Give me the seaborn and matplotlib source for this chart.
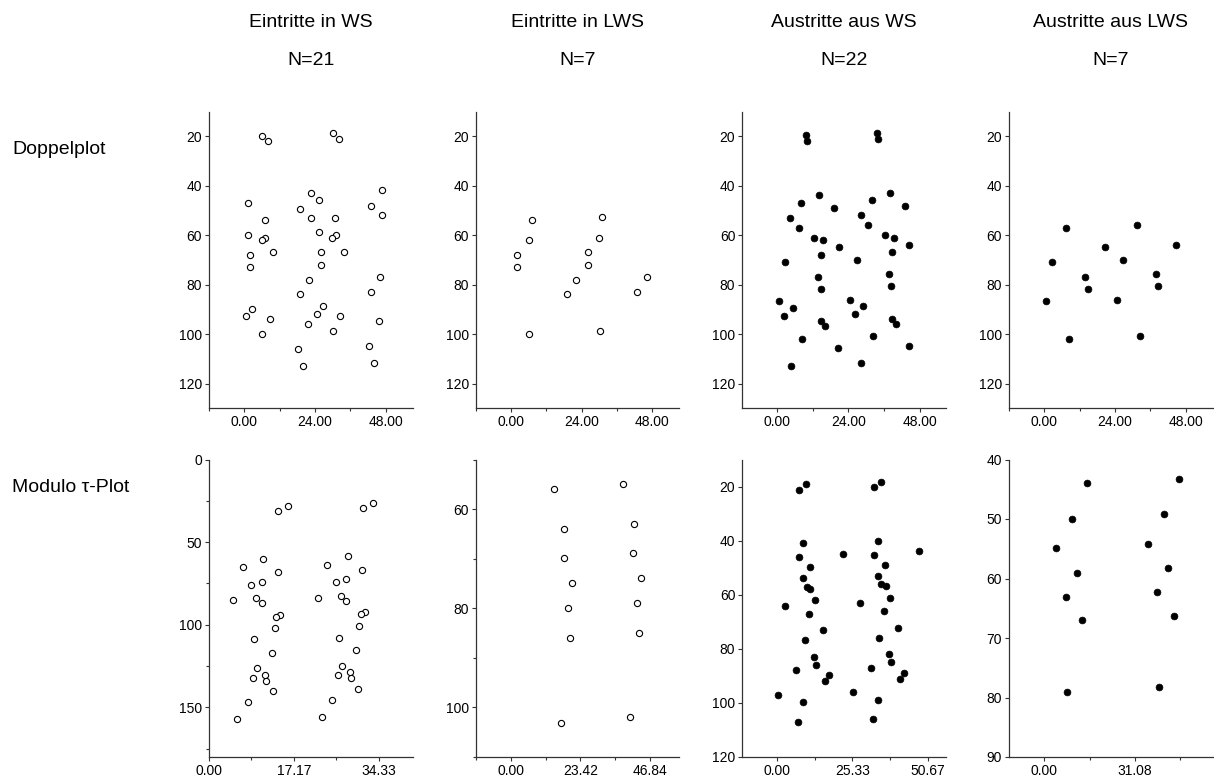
import matplotlib
matplotlib.use("Agg")
import matplotlib.pyplot as plt
import pandas as pd
import seaborn as sns
from matplotlib.ticker import FixedLocator, FixedFormatter

# ---------------- data ----------------
col_titles = ["Eintritte in WS", "Eintritte in LWS", "Austritte aus WS", "Austritte aus LWS"]
col_n = ["N=21", "N=7", "N=22", "N=7"]
row_labels = ["Doppelplot", "Modulo \u03c4-Plot"]

# Row 1: Doppelplot (x = hour, y = day)
p1_x = [6.1, 7.9, 30.2, 32.0, 46.8, 22.6, 25.5, 1.4, 42.9, 19.0, 46.8, 7.0, 22.6, 30.9, 25.2,
        1.1, 31.0, 29.7, 6.9, 5.9, 33.8, 26.2, 2.0, 9.8, 1.9, 26.2, 46.1, 22.0, 19.0, 42.9,
        2.5, 26.6, 0.7, 24.8, 32.6, 8.7, 45.6, 21.5, 5.9, 30.0, 42.2, 18.1, 43.9, 19.8]
p1_y = [19.7, 21.9, 18.7, 20.9, 41.8, 42.7, 45.9, 47.0, 48.0, 49.2, 51.9, 53.9, 52.9, 52.9, 58.7,
        59.9, 59.9, 60.9, 60.9, 61.9, 66.7, 66.8, 67.8, 66.8, 72.7, 72.0, 77.0, 78.1, 83.8, 82.8,
        89.8, 88.8, 92.8, 91.9, 92.8, 93.9, 94.6, 95.7, 99.8, 98.9, 104.8, 105.9, 111.7, 112.7]

p2_x = [7.1, 6.0, 2.2, 2.2, 6.0, 31.0, 30.0, 26.3, 26.3, 22.1, 19.0, 30.1, 46.2, 42.9]
p2_y = [53.9, 61.9, 67.8, 72.7, 99.8, 52.8, 60.9, 66.8, 72.0, 78.1, 83.8, 98.9, 77.0, 82.8]

p3_x = [9.8, 10.0, 33.6, 33.9, 38.1, 14.2, 32.0, 8.0, 43.2, 19.2, 4.3, 28.3, 7.3, 30.5, 12.6,
        36.3, 15.4, 39.3, 20.7, 44.6, 14.7, 38.6, 2.8, 26.8, 13.8, 37.7, 14.7, 38.4, 0.7, 24.6,
        2.4, 26.4, 5.3, 29.0, 14.9, 38.7, 16.3, 40.0, 8.5, 32.3, 20.5, 44.3, 4.6, 28.3]
p3_y = [19.6, 21.9, 18.7, 20.9, 42.7, 43.8, 45.9, 47.0, 48.0, 49.0, 52.9, 51.9, 57.0, 56.0, 60.9,
        59.9, 61.9, 60.9, 64.6, 64.0, 67.8, 66.8, 70.9, 70.0, 76.9, 75.8, 81.8, 80.6, 86.7, 86.0,
        92.8, 91.9, 89.6, 88.7, 94.5, 93.9, 96.6, 95.7, 102.0, 100.9, 105.8, 104.8, 112.7, 111.7]

p4_x = [7.2, 31.5, 2.7, 26.8, 13.8, 37.9, 14.7, 38.6, 0.6, 24.7, 8.4, 32.5, 20.7, 44.8]
p4_y = [57.1, 56.0, 70.9, 70.0, 76.9, 75.8, 81.8, 80.6, 86.7, 86.0, 102.0, 100.9, 64.6, 64.0]

# Row 2: Modulo tau-Plot
p5_x = [14.0, 15.9, 31.1, 33.1, 11.0, 28.1, 6.8, 23.9, 13.9, 31.0, 10.7, 27.8, 8.5, 25.7, 4.8,
        22.0, 9.5, 26.6, 10.7, 27.8, 14.4, 31.6, 13.6, 30.7, 13.3, 30.4, 9.1, 26.2, 12.7, 29.8,
        9.7, 26.8, 8.9, 26.1, 11.4, 28.5, 11.6, 28.7, 13.0, 30.1, 7.8, 24.9, 5.7, 22.8]
p5_y = [31.3, 28.0, 29.6, 26.4, 60.1, 58.5, 65.1, 63.7, 67.9, 66.9, 74.2, 72.6, 76.0, 74.4, 84.9,
        83.9, 84.1, 82.7, 86.7, 85.7, 93.8, 92.5, 95.0, 93.3, 102.0, 101.0, 108.9, 107.9, 117.1, 115.5,
        126.0, 124.8, 132.1, 130.6, 130.4, 128.8, 134.3, 132.5, 139.9, 138.7, 146.8, 145.8, 156.9, 155.6]

p6_x = [14.4, 37.7, 18.0, 41.4, 17.9, 41.2, 20.7, 44.0, 19.4, 42.7, 19.8, 43.1, 17.0, 40.3]
p6_y = [56.0, 54.9, 64.0, 63.0, 69.9, 68.9, 75.0, 73.9, 80.0, 79.0, 86.0, 84.9, 103.1, 102.0]

p7_x = [9.8, 7.4, 35.0, 32.5, 8.9, 34.0, 22.3, 47.8, 7.4, 32.5, 11.0, 36.2, 8.6, 33.9, 10.0,
        11.2, 35.1, 36.5, 12.7, 38.1, 2.6, 27.8, 10.8, 36.0, 15.4, 40.5, 9.3, 34.4, 12.6, 37.8,
        13.2, 38.3, 6.3, 31.5, 17.5, 42.7, 16.1, 41.3, 0.3, 25.6, 8.6, 33.9, 7.2, 32.4]
p7_y = [19.1, 21.1, 18.2, 20.1, 40.8, 40.0, 44.9, 43.9, 46.1, 45.2, 49.8, 48.9, 53.8, 52.9, 57.0,
        58.0, 56.0, 56.9, 61.9, 61.1, 64.0, 63.2, 67.0, 66.0, 73.1, 72.2, 76.8, 75.9, 83.0, 82.0,
        85.8, 84.9, 87.9, 87.0, 89.8, 88.9, 91.9, 91.0, 97.1, 96.1, 99.8, 98.8, 107.1, 106.1]

p8_x = [14.6, 46.2, 9.6, 41.1, 4.1, 35.4, 11.1, 42.4, 7.3, 38.7, 13.0, 44.5, 7.8, 39.2]
p8_y = [44.0, 43.3, 50.0, 49.2, 54.9, 54.2, 59.0, 58.2, 63.1, 62.2, 67.0, 66.3, 79.0, 78.2]

panels_x = [p1_x, p2_x, p3_x, p4_x, p5_x, p6_x, p7_x, p8_x]
panels_y = [p1_y, p2_y, p3_y, p4_y, p5_y, p6_y, p7_y, p8_y]

# x tick labels (major) and minor tick positions
xmajor = [["0.00", "24.00", "48.00"]] * 4 + [["0.00", "17.17", "34.33"], ["0.00", "23.42", "46.84"],
                                             ["0.00", "25.33", "50.67"], ["0.00", "31.08"]]
xminor = [[-12, 12, 36]] * 4 + [[8.585, 25.75], [-11.71, 11.71, 35.13], [12.665, 38.0], [15.54, 46.62]]
xlims = [(-12, 57.2), (-12, 57.2), (-11.7, 56.9), (-12, 57.2),
         (0, 41.2), (-11.9, 56.9), (-11.66, 56.8), (-12.1, 57.7)]
ymajor = [[20, 40, 60, 80, 100, 120]] * 4 + [[0, 50, 100, 150], [60, 80, 100],
                                              [20, 40, 60, 80, 100, 120], [40, 50, 60, 70, 80, 90]]
yminor = [[]] * 4 + [[25, 75, 125, 175], [50, 70, 90, 110], [], []]
ylims = [(130, 10)] * 4 + [(180, 0), (110, 50), (120, 10), (90, 40)]
filled = [False, False, True, True, False, False, True, True]

# ---------------- figure ----------------
sns.set_style("ticks")
plt.rcParams["font.family"] = ["Liberation Sans", "DejaVu Sans"]
plt.rcParams["text.color"] = "black"
plt.rcParams["xtick.color"] = "black"
plt.rcParams["ytick.color"] = "black"

W, H = 1214, 781
fig = plt.figure(figsize=(W / 100, H / 100), dpi=100)

lefts = [209, 475.7, 742.3, 1009]
aw = 203.7
rows = [(111.7, 408.3), (459.5, 757.0)]

for i in range(8):
    r, c = divmod(i, 4)
    top, bot = rows[r]
    ax = fig.add_axes([lefts[c] / W, 1 - bot / H, aw / W, (bot - top) / H])
    df = pd.DataFrame({"x": panels_x[i], "y": panels_y[i]})
    if filled[i]:
        sns.scatterplot(data=df, x="x", y="y", ax=ax, s=24, color="black",
                        edgecolor="black", linewidth=0.5)
    else:
        sns.scatterplot(data=df, x="x", y="y", ax=ax, s=20, facecolor="white",
                        edgecolor="black", linewidth=0.8)
    ax.set_xlim(*xlims[i])
    ax.set_ylim(*ylims[i])
    majx = [float(t) for t in xmajor[i]]
    ax.xaxis.set_major_locator(FixedLocator(majx))
    ax.xaxis.set_major_formatter(FixedFormatter(xmajor[i]))
    ax.xaxis.set_minor_locator(FixedLocator(xminor[i]))
    ax.yaxis.set_major_locator(FixedLocator(ymajor[i]))
    ax.yaxis.set_minor_locator(FixedLocator(yminor[i]))
    ax.set_xlabel("")
    ax.set_ylabel("")
    for s in ["top", "right"]:
        ax.spines[s].set_visible(False)
    for s in ["left", "bottom"]:
        ax.spines[s].set_color("#333333")
        ax.spines[s].set_linewidth(0.9)
    ax.tick_params(which="major", direction="out", length=3, width=0.8, color="#333333",
                   labelsize=10, pad=2, labelcolor="black")
    ax.tick_params(which="minor", direction="out", length=2.2, width=0.8, color="#333333")

for c in range(4):
    cx = (lefts[c] + aw / 2) / W
    fig.text(cx, 1 - 27.3 / H, col_titles[c], ha="center", va="baseline", fontsize=14, color="black")
    fig.text(cx, 1 - 65.0 / H, col_n[c], ha="center", va="baseline", fontsize=14, color="black")

fig.text(12.7 / W, 1 - 154.3 / H, row_labels[0], ha="left", va="baseline", fontsize=14, color="black")
fig.text(12.0 / W, 1 - 492.0 / H, row_labels[1], ha="left", va="baseline", fontsize=14, color="black")

fig.savefig("out.png", dpi=100)
